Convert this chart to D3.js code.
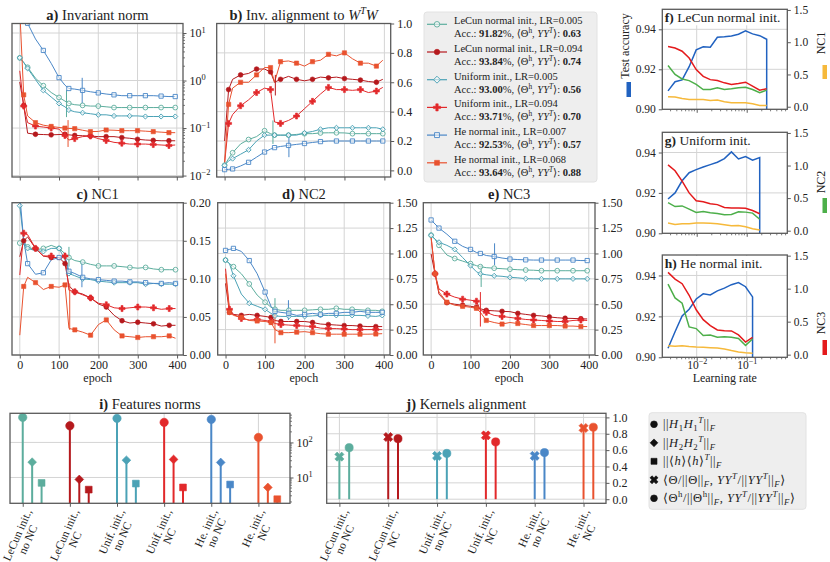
<!DOCTYPE html>
<html lang="en">
<head>
<meta charset="UTF-8">
<title>Invariant norm, alignment and NC</title>
<script src="https://d3js.org/d3.v7.min.js"></script>
<style>
  body { margin: 0; background: #fff; }
  text { font-family: 'Liberation Serif', 'DejaVu Serif', serif; fill: #222; }
</style>
</head>
<body>
<script>
const width = 830, height = 562;

// ---- runs (legend order) ----
const runNames = ["LeCun normal init.", "LeCun normal init.", "Uniform init.", "Uniform init.", "He normal init.", "He normal init."];
const runLR = ["0.005", "0.094", "0.005", "0.094", "0.007", "0.068"];
const runAcc = ["91.82", "93.84", "93.00", "93.71", "92.53", "93.64"];
const alignH = [0.63, 0.74, 0.56, 0.70, 0.57, 0.88];
const alignFull = [0.52, 0.76, 0.53, 0.78, 0.53, 0.87];

// ---- training curves ----
const epochs = [0, 10, 20, 40, 60, 80, 100, 115, 125, 140, 160, 180, 200, 220, 240, 260, 280, 300, 320, 340, 360, 380, 396];

const invNorm = [
  [3.0, 2.4, 1.9, 1.12, 0.78, 0.56, 0.44, 0.37, 0.33, 0.31, 0.30, 0.29, 0.29, 0.28, 0.27, 0.27, 0.27, 0.27, 0.27, 0.27, 0.27, 0.27, 0.27],
  [0.93, 0.30, 0.078, 0.074, 0.073, 0.072, 0.073, 0.074, 0.072, 0.070, 0.069, 0.068, 0.066, 0.066, 0.066, 0.063, 0.061, 0.058, 0.056, 0.055, 0.054, 0.054, 0.054],
  [3.0, 2.4, 1.8, 1.05, 0.62, 0.45, 0.33, 0.28, 0.24, 0.22, 0.21, 0.20, 0.19, 0.19, 0.18, 0.18, 0.18, 0.18, 0.175, 0.175, 0.175, 0.175, 0.175],
  [1.6, 0.29, 0.13, 0.11, 0.105, 0.10, 0.095, 0.07, 0.056, 0.06, 0.066, 0.068, 0.06, 0.055, 0.05, 0.048, 0.046, 0.046, 0.046, 0.045, 0.044, 0.043, 0.044],
  [40, 25, 16, 7.5, 4.3, 2.3, 1.15, 0.8, 0.68, 0.66, 0.62, 0.58, 0.55, 0.52, 0.50, 0.48, 0.48, 0.48, 0.48, 0.48, 0.47, 0.46, 0.46],
  [30, 0.5, 0.18, 0.13, 0.115, 0.108, 0.103, 0.10, 0.098, 0.097, 0.09, 0.084, 0.085, 0.091, 0.09, 0.088, 0.088, 0.088, 0.086, 0.084, 0.082, 0.08, 0.08]
];
const invAlign = [
  [0.035, 0.08, 0.12, 0.18, 0.21, 0.23, 0.27, 0.25, 0.24, 0.24, 0.24, 0.245, 0.25, 0.25, 0.255, 0.256, 0.256, 0.255, 0.25, 0.25, 0.25, 0.25, 0.25],
  [0.20, 0.55, 0.62, 0.65, 0.66, 0.69, 0.69, 0.67, 0.60, 0.62, 0.64, 0.62, 0.61, 0.62, 0.635, 0.63, 0.635, 0.625, 0.62, 0.615, 0.605, 0.60, 0.62],
  [0.034, 0.065, 0.08, 0.11, 0.14, 0.20, 0.24, 0.24, 0.24, 0.24, 0.24, 0.24, 0.255, 0.265, 0.28, 0.29, 0.29, 0.29, 0.29, 0.29, 0.29, 0.29, 0.28],
  [0.05, 0.32, 0.38, 0.44, 0.48, 0.53, 0.56, 0.55, 0.33, 0.32, 0.34, 0.37, 0.42, 0.47, 0.52, 0.565, 0.55, 0.55, 0.545, 0.55, 0.53, 0.54, 0.565],
  [0.005, 0.007, 0.01, 0.03, 0.055, 0.09, 0.125, 0.145, 0.155, 0.163, 0.17, 0.177, 0.183, 0.19, 0.196, 0.20, 0.20, 0.20, 0.20, 0.20, 0.20, 0.20, 0.20],
  [0.05, 0.45, 0.56, 0.60, 0.60, 0.65, 0.70, 0.70, 0.60, 0.74, 0.745, 0.73, 0.71, 0.74, 0.75, 0.79, 0.78, 0.80, 0.76, 0.73, 0.73, 0.71, 0.75]
];
const nc1 = [
  [0.147, 0.145, 0.142, 0.138, 0.14, 0.144, 0.14, 0.133, 0.128, 0.124, 0.122, 0.119, 0.117, 0.117, 0.117, 0.116, 0.115, 0.114, 0.115, 0.113, 0.112, 0.112, 0.112],
  [0.129, 0.15, 0.155, 0.14, 0.13, 0.128, 0.128, 0.12, 0.091, 0.083, 0.08, 0.075, 0.067, 0.063, 0.052, 0.045, 0.042, 0.043, 0.042, 0.041, 0.038, 0.039, 0.039],
  [0.196, 0.15, 0.14, 0.137, 0.136, 0.14, 0.14, 0.125, 0.107, 0.104, 0.10, 0.099, 0.097, 0.096, 0.095, 0.095, 0.095, 0.095, 0.093, 0.094, 0.093, 0.093, 0.093],
  [0.105, 0.16, 0.158, 0.14, 0.13, 0.13, 0.125, 0.13, 0.085, 0.083, 0.079, 0.075, 0.068, 0.066, 0.062, 0.061, 0.062, 0.063, 0.063, 0.062, 0.06, 0.061, 0.061],
  [0.21, 0.15, 0.12, 0.106, 0.108, 0.125, 0.128, 0.13, 0.11, 0.107, 0.102, 0.10, 0.099, 0.098, 0.097, 0.097, 0.096, 0.096, 0.095, 0.094, 0.094, 0.095, 0.094],
  [0.026, 0.09, 0.102, 0.095, 0.086, 0.09, 0.089, 0.092, 0.035, 0.033, 0.03, 0.026, 0.04, 0.046, 0.033, 0.025, 0.024, 0.023, 0.024, 0.024, 0.024, 0.025, 0.022]
];
const nc2 = [
  [0.935, 0.90, 0.87, 0.80, 0.70, 0.59, 0.52, 0.47, 0.45, 0.44, 0.44, 0.44, 0.44, 0.445, 0.45, 0.45, 0.46, 0.45, 0.45, 0.445, 0.44, 0.44, 0.43],
  [0.705, 0.42, 0.40, 0.39, 0.40, 0.39, 0.38, 0.37, 0.34, 0.33, 0.33, 0.33, 0.33, 0.32, 0.305, 0.30, 0.295, 0.29, 0.29, 0.285, 0.28, 0.28, 0.28],
  [0.935, 0.90, 0.78, 0.60, 0.51, 0.48, 0.45, 0.41, 0.385, 0.38, 0.38, 0.38, 0.38, 0.385, 0.39, 0.39, 0.39, 0.39, 0.39, 0.39, 0.385, 0.38, 0.39],
  [0.85, 0.45, 0.40, 0.36, 0.345, 0.35, 0.34, 0.33, 0.31, 0.30, 0.295, 0.29, 0.285, 0.28, 0.265, 0.26, 0.26, 0.255, 0.25, 0.25, 0.25, 0.25, 0.25],
  [1.03, 1.04, 1.05, 1.02, 0.93, 0.80, 0.62, 0.48, 0.43, 0.42, 0.41, 0.39, 0.40, 0.41, 0.40, 0.41, 0.41, 0.42, 0.42, 0.43, 0.42, 0.42, 0.42],
  [0.80, 0.42, 0.39, 0.37, 0.34, 0.335, 0.33, 0.32, 0.25, 0.22, 0.22, 0.225, 0.23, 0.22, 0.21, 0.205, 0.205, 0.205, 0.205, 0.205, 0.205, 0.207, 0.21]
];
const nc3 = [
  [1.18, 1.14, 1.08, 0.985, 0.95, 0.925, 0.90, 0.88, 0.87, 0.86, 0.855, 0.85, 0.845, 0.84, 0.837, 0.835, 0.83, 0.83, 0.83, 0.83, 0.83, 0.83, 0.83],
  [0.995, 0.80, 0.60, 0.515, 0.50, 0.49, 0.48, 0.47, 0.455, 0.44, 0.435, 0.43, 0.427, 0.41, 0.40, 0.39, 0.385, 0.375, 0.367, 0.362, 0.36, 0.357, 0.355],
  [1.18, 1.14, 1.11, 1.08, 1.04, 0.96, 0.88, 0.82, 0.80, 0.79, 0.78, 0.775, 0.765, 0.76, 0.752, 0.75, 0.75, 0.75, 0.75, 0.75, 0.75, 0.75, 0.75],
  [1.16, 0.80, 0.65, 0.60, 0.57, 0.55, 0.54, 0.53, 0.44, 0.42, 0.39, 0.38, 0.37, 0.36, 0.35, 0.345, 0.34, 0.335, 0.33, 0.33, 0.34, 0.345, 0.34],
  [1.33, 1.29, 1.25, 1.19, 1.12, 1.07, 1.04, 1.01, 1.0, 0.98, 0.97, 0.955, 0.945, 0.94, 0.937, 0.935, 0.935, 0.935, 0.935, 0.935, 0.935, 0.93, 0.93],
  [1.16, 0.80, 0.62, 0.52, 0.49, 0.48, 0.47, 0.46, 0.42, 0.34, 0.32, 0.305, 0.32, 0.31, 0.30, 0.29, 0.29, 0.29, 0.29, 0.285, 0.285, 0.28, 0.28]
];
// vertical jumps: [run, epoch, low, high]
const spikesNorm = [[0, 119, 0.17, 0.63], [4, 159, 0.33, 1.14], [5, 123, 0.04, 0.147]];
const spikesAlign = [[0, 121, 0.18, 0.34], [4, 161, 0.09, 0.25], [1, 127, 0.51, 0.65]];
const spikesNC1 = [[0, 125, 0.116, 0.142], [5, 127, 0.033, 0.094], [4, 158, 0.089, 0.122]];
const spikesNC2 = [[0, 125, 0.39, 0.56], [4, 159, 0.345, 0.54], [5, 125, 0.115, 0.41]];
const spikesNC3 = [[0, 127, 0.67, 0.886], [4, 161, 0.886, 1.10], [3, 125, 0.28, 0.62]];

// ---- learning-rate sweeps ----
const lrGrid = [0.00267, 0.00369, 0.00511, 0.00706, 0.00977, 0.0135, 0.0187, 0.0259, 0.0358, 0.0495, 0.0685, 0.0948, 0.131, 0.182, 0.251];
const divergedAcc = 0.10;
const accLecun = [0.9092, 0.9138, 0.9147, 0.9213, 0.9297, 0.9313, 0.931, 0.936, 0.9363, 0.9367, 0.9375, 0.9392, 0.9377, 0.9368, 0.935];
const nc1Lecun = [0.154, 0.149, 0.128, 0.113, 0.113, 0.113, 0.098, 0.103, 0.077, 0.062, 0.062, 0.062, 0.046, 0.02, 0.02];
const nc2Lecun = [0.64, 0.50, 0.43, 0.405, 0.345, 0.267, 0.267, 0.293, 0.267, 0.277, 0.293, 0.303, 0.267, 0.216, 0.257];
const nc3Lecun = [0.935, 0.91, 0.86, 0.755, 0.575, 0.47, 0.42, 0.405, 0.37, 0.345, 0.36, 0.38, 0.32, 0.257, 0.277];
const accUnif = [0.917, 0.920, 0.926, 0.930, 0.9315, 0.9328, 0.934, 0.9352, 0.937, 0.9403, 0.9368, 0.938, 0.9362, 0.9375];
const nc1Unif = [0.117, 0.097, 0.105, 0.107, 0.117, 0.117, 0.115, 0.105, 0.09, 0.075, 0.078, 0.06, 0.03, 0.01];
const nc2Unif = [0.43, 0.37, 0.38, 0.33, 0.28, 0.295, 0.275, 0.265, 0.245, 0.25, 0.29, 0.285, 0.27, 0.175];
const nc3Unif = [1.01, 0.92, 0.76, 0.58, 0.46, 0.445, 0.415, 0.40, 0.355, 0.35, 0.35, 0.345, 0.31, 0.26];
const accHe = [0.9044, 0.9125, 0.9202, 0.9235, 0.9285, 0.931, 0.9305, 0.9325, 0.9338, 0.9355, 0.9365, 0.9345, 0.9295];
const nc1He = [0.136, 0.128, 0.136, 0.124, 0.116, 0.112, 0.106, 0.10, 0.086, 0.062, 0.042, 0.028, 0.02];
const nc2He = [1.07, 0.86, 0.78, 0.42, 0.395, 0.29, 0.298, 0.265, 0.27, 0.263, 0.245, 0.14, 0.237];
const nc3He = [1.247, 1.145, 1.075, 0.90, 0.68, 0.53, 0.44, 0.375, 0.364, 0.36, 0.30, 0.19, 0.263];

// ---- bottom stem plots ----
const groupLabels = [["LeCun init.,", "no NC"], ["LeCun init.,", "NC"], ["Unif. init.,", "no NC"], ["Unif. init.,", "NC"], ["He. init.,", "no NC"], ["He. init.,", "NC"]];
const normH1 = [518, 298, 485, 373, 454, 139];
const normH2 = [27.4, 8.8, 31, 32.7, 26.8, 5.2];
const normMean = [7.0, 4.5, 6.7, 5.2, 6.3, 2.4];

// ---- styles ----
const runColors = ["#5cad9d", "#b5191d", "#4ba2b6", "#e2292b", "#4a87c7", "#e9522f"];
const runShapes = ["circle", "circle", "diamond", "plus", "square", "square"];
const runFilled = [false, true, false, true, false, true];
const cAcc = "#2162c0", cNC1 = "#f6b93b", cNC2 = "#4daf4a", cNC3 = "#e41a1c";
const gridColor = "#d4d4d4", spineColor = "#5a5a5a";
const tickFs = 12;

const svg = d3.select("body").append("svg").attr("width", width).attr("height", height);

function richText(t, parts, fs) {
  let shift = 0;
  parts.forEach(p => {
    const s = p[0], k = p[1] || "";
    const span = t.append("tspan").text(s);
    const target = k.includes("^") ? -0.4 * fs : k.includes("_") ? 0.25 * fs : 0;
    if (target - shift !== 0) span.attr("dy", target - shift);
    shift = target;
    if (target !== 0) span.attr("font-size", 0.7 * fs);
    if (k.includes("I")) span.attr("font-style", "italic");
    span.attr("font-weight", k.includes("B") ? "bold" : "normal");
  });
}

function markerPath(shape, size) {
  const t = {circle: d3.symbolCircle, diamond: d3.symbolSquare, plus: d3.symbolCross,
             square: d3.symbolSquare, x: d3.symbolCross}[shape];
  return d3.symbol().type(t).size(size)();
}
function drawMarker(g, shape, cx, cy, size, color, filled) {
  const rot = (shape === "diamond" || shape === "x") ? 45 : 0;
  g.append("path").attr("d", markerPath(shape, size))
    .attr("transform", `translate(${cx},${cy}) rotate(${rot})`)
    .attr("fill", filled ? color : "#fff").attr("fill-opacity", filled ? 1 : 0.55)
    .attr("stroke", color).attr("stroke-width", filled ? 0.6 : 0.9);
}

function frame(g, x0, y0, x1, y1) {
  g.append("rect").attr("x", x0).attr("y", y0).attr("width", x1 - x0).attr("height", y1 - y0)
    .attr("fill", "none").attr("stroke", spineColor).attr("stroke-width", 1.3);
}
function styleAxis(sel, fs) {
  sel.attr("font-size", fs).attr("font-family", null);
  sel.select(".domain").remove();
  sel.selectAll(".tick line").attr("stroke", spineColor);
  sel.selectAll(".tick text").attr("fill", "#222");
}
function clipRect(id, x0, y0, x1, y1) {
  svg.append("clipPath").attr("id", id).append("rect")
    .attr("x", x0).attr("y", y0).attr("width", x1 - x0).attr("height", y1 - y0);
  return `url(#${id})`;
}
function minorLogTicks(g, scale, lo, hi, draw) {
  for (let e = lo; e <= hi; e++) for (let m = 2; m <= 9; m++) {
    const v = m * Math.pow(10, e);
    const [d0, d1] = scale.domain();
    if (v > d0 && v < d1) draw(scale(v));
  }
}
function powLabel(d) {
  return [["10"], [String(Math.round(Math.log10(d))).replace("-", "−"), "^"]];
}

// ================= epoch panels a-e =================
function epochPanel(o) {
  const g = svg.append("g");
  const x = d3.scaleLinear().domain([-19.8, 415.8]).range([o.x0, o.x1]);
  const y = (o.log ? d3.scaleLog() : d3.scaleLinear()).domain(o.domain).range([o.y1, o.y0]);
  const xt = [0, 100, 200, 300, 400];
  g.selectAll(null).data(xt).join("line")
    .attr("x1", d => x(d)).attr("x2", d => x(d)).attr("y1", o.y0).attr("y2", o.y1)
    .attr("stroke", gridColor).attr("stroke-width", 1);
  g.selectAll(null).data(o.ticks).join("line")
    .attr("x1", o.x0).attr("x2", o.x1).attr("y1", d => y(d)).attr("y2", d => y(d))
    .attr("stroke", gridColor).attr("stroke-width", 1);

  const plot = g.append("g").attr("clip-path", clipRect("clip" + o.id, o.x0, o.y0, o.x1, o.y1));
  const line = d3.line().x(d => x(d[0])).y(d => y(d[1]));
  o.data.forEach((vals, r) => {
    const pts = epochs.map((e, i) => [e, vals[i]]);
    plot.append("path").datum(pts).attr("d", line)
      .attr("fill", "none").attr("stroke", runColors[r]).attr("stroke-width", 1);
  });
  o.spikes.forEach(s => {
    plot.append("line").attr("x1", x(s[1])).attr("x2", x(s[1]))
      .attr("y1", y(s[2])).attr("y2", y(s[3]))
      .attr("stroke", runColors[s[0]]).attr("stroke-width", 1);
  });
  o.data.forEach((vals, r) => {
    epochs.forEach((e, i) => {
      if (i % 2 !== r % 2) return;
      const sz = runShapes[r] === "plus" ? 20 : runShapes[r] === "diamond" ? 13 : 18;
      drawMarker(plot, runShapes[r], x(e), y(vals[i]), sz, runColors[r], runFilled[r]);
    });
  });

  frame(g, o.x0, o.y0, o.x1, o.y1);

  const ay = g.append("g").attr("transform", `translate(${o.x1},0)`)
    .call(d3.axisRight(y).tickValues(o.ticks).tickSize(3.5).tickPadding(3)
      .tickFormat(o.log ? () => "" : d3.format(o.fmt)));
  styleAxis(ay, tickFs);
  if (o.log) {
    ay.selectAll(".tick text").each(function (d) { richText(d3.select(this), powLabel(d), tickFs); });
    minorLogTicks(g, y, -2, 1, yy => g.append("line").attr("x1", o.x1).attr("x2", o.x1 + 2)
      .attr("y1", yy).attr("y2", yy).attr("stroke", spineColor).attr("stroke-width", 0.8));
  }
  const ax = g.append("g").attr("transform", `translate(0,${o.y1})`)
    .call(d3.axisBottom(x).tickValues(xt).tickSize(3.5).tickPadding(2)
      .tickFormat(o.xlabels ? d3.format("d") : () => ""));
  styleAxis(ax, tickFs);
  if (o.xlabels) {
    g.append("text").attr("x", (o.x0 + o.x1) / 2).attr("y", o.y1 + 27)
      .attr("text-anchor", "middle").attr("font-size", 12).text("epoch");
  }
  const tt = g.append("text").attr("x", (o.x0 + o.x1) / 2).attr("y", o.y0 - 4)
    .attr("text-anchor", "middle").attr("font-size", 14.5);
  richText(tt, o.title, 14.5);
}

const topY0 = 23.5, topY1 = 177, midY0 = 202.7, midY1 = 355;
epochPanel({id: "a", x0: 12, x1: 183, y0: topY0, y1: topY1, log: true,
  domain: [Math.pow(10, -2.03), Math.pow(10, 1.2)], ticks: [0.01, 0.1, 1, 10],
  data: invNorm, spikes: spikesNorm, xlabels: false, title: [["a)", "B"], [" Invariant norm"]]});
epochPanel({id: "b", x0: 216.7, x1: 390.7, y0: topY0, y1: topY1,
  domain: [-0.045, 1.0], ticks: [0, 0.2, 0.4, 0.6, 0.8, 1.0], fmt: ".1f",
  data: invAlign, spikes: spikesAlign, xlabels: false,
  title: [["b)", "B"], [" Inv. alignment to "], ["W", "I"], ["T", "^I"], ["W", "I"]]});
epochPanel({id: "c", x0: 12, x1: 183.3, y0: midY0, y1: midY1,
  domain: [0, 0.2], ticks: [0, 0.05, 0.1, 0.15, 0.2], fmt: ".2f",
  data: nc1, spikes: spikesNC1, xlabels: true, title: [["c)", "B"], [" NC1"]]});
epochPanel({id: "d", x0: 217.7, x1: 390, y0: midY0, y1: midY1,
  domain: [0, 1.5], ticks: [0, 0.25, 0.5, 0.75, 1, 1.25, 1.5], fmt: ".2f",
  data: nc2, spikes: spikesNC2, xlabels: true, title: [["d)", "B"], [" NC2"]]});
epochPanel({id: "e", x0: 423.3, x1: 595, y0: midY0, y1: midY1,
  domain: [0, 1.5], ticks: [0, 0.25, 0.5, 0.75, 1, 1.25, 1.5], fmt: ".2f",
  data: nc3, spikes: spikesNC3, xlabels: true, title: [["e)", "B"], [" NC3"]]});

// ---- legend for runs ----
(function () {
  const g = svg.append("g");
  g.append("rect").attr("x", 424).attr("y", 12).attr("width", 173).attr("height", 170)
    .attr("rx", 3).attr("fill", "#eeeeee").attr("stroke", "#e2e2e2");
  runNames.forEach((nm, r) => {
    const yb = 24.3 + r * 27.7;
    g.append("line").attr("x1", 427).attr("x2", 447).attr("y1", yb).attr("y2", yb)
      .attr("stroke", runColors[r]).attr("stroke-width", 1.2);
    drawMarker(g, runShapes[r], 437, yb, runShapes[r] === "plus" ? 28 : 24, runColors[r], runFilled[r]);
    const t1 = g.append("text").attr("x", 454).attr("y", yb).attr("font-size", 10.5);
    richText(t1, [[nm + ", LR=" + runLR[r]]], 10.5);
    const t2 = g.append("text").attr("x", 454).attr("y", yb + 13).attr("font-size", 10.5);
    richText(t2, [["Acc.: "], [runAcc[r], "B"], ["%, ⟨Θ"], ["h", "^"], [", "], ["YY", "I"], ["T", "^I"],
      ["⟩: "], [alignH[r].toFixed(2), "B"]], 10.5);
  });
})();

// ================= learning-rate panels f-h =================
function lrPanel(o) {
  const g = svg.append("g");
  const x0 = 662.3, x1 = 787.3;
  const x = d3.scaleLog().domain([Math.pow(10, -2.688), Math.pow(10, -0.188)]).range([x0, x1]);
  const yl = d3.scaleLinear().domain([0.90, 0.95]).range([o.y1, o.y0]);
  const yr = d3.scaleLinear().domain([-0.04, 1.51]).range([o.y1, o.y0]);
  [0.01, 0.1].forEach(v => g.append("line").attr("x1", x(v)).attr("x2", x(v)).attr("y1", o.y0).attr("y2", o.y1)
    .attr("stroke", gridColor));
  [0.92, 0.94].forEach(v => g.append("line").attr("x1", x0).attr("x2", x1).attr("y1", yl(v)).attr("y2", yl(v))
    .attr("stroke", gridColor));
  const plot = g.append("g").attr("clip-path", clipRect("clip" + o.id, x0, o.y0, x1, o.y1));
  const n = o.acc.length;
  const accPts = o.acc.map((v, i) => [lrGrid[i], v]).concat([[lrGrid[n - 1], divergedAcc]]);
  plot.append("path").datum(accPts).attr("d", d3.line().x(d => x(d[0])).y(d => yl(d[1])))
    .attr("fill", "none").attr("stroke", cAcc).attr("stroke-width", 1.5);
  [[o.nc3, cNC3], [o.nc2, cNC2], [o.nc1, cNC1]].forEach(([vals, c]) => {
    plot.append("path").datum(vals.map((v, i) => [lrGrid[i], v]))
      .attr("d", d3.line().x(d => x(d[0])).y(d => yr(d[1])))
      .attr("fill", "none").attr("stroke", c).attr("stroke-width", 1.5);
  });
  frame(g, x0, o.y0, x1, o.y1);
  const al = g.append("g").attr("transform", `translate(${x0},0)`)
    .call(d3.axisLeft(yl).tickValues([0.90, 0.92, 0.94]).tickFormat(d3.format(".2f")).tickSize(3.5).tickPadding(3));
  styleAxis(al, 11.5);
  const ar = g.append("g").attr("transform", `translate(${x1},0)`)
    .call(d3.axisRight(yr).tickValues([0, 0.5, 1, 1.5]).tickFormat(d3.format(".1f")).tickSize(3.5).tickPadding(3));
  styleAxis(ar, 11.5);
  const ab = g.append("g").attr("transform", `translate(0,${o.y1})`)
    .call(d3.axisBottom(x).tickValues([0.01, 0.1]).tickFormat(() => "").tickSize(3.5).tickPadding(1));
  styleAxis(ab, 11.5);
  minorLogTicks(g, x, -3, -1, xx => g.append("line").attr("x1", xx).attr("x2", xx)
    .attr("y1", o.y1).attr("y2", o.y1 + 2).attr("stroke", spineColor).attr("stroke-width", 0.8));
  if (o.xlabels) {
    ab.selectAll(".tick text").attr("dy", "0.62em")
      .each(function (d) { richText(d3.select(this), powLabel(d), 11.5); });
    g.append("text").attr("x", (x0 + x1) / 2).attr("y", o.y1 + 24.5).attr("text-anchor", "middle")
      .attr("font-size", 12).text("Learning rate");
  }
  const bg = g.append("rect").attr("fill", "#fff");
  const tt = g.append("text").attr("x", x0 + 2.5).attr("y", o.y0 + 12.5).attr("font-size", 13.5);
  richText(tt, o.title, 13.5);
  const bb = tt.node().getBBox();
  bg.attr("x", x0 + 1).attr("y", o.y0 + 1).attr("width", bb.width + 3).attr("height", bb.height);
}
lrPanel({id: "f", y0: 9.3, y1: 109.3, acc: accLecun, nc1: nc1Lecun, nc2: nc2Lecun, nc3: nc3Lecun,
  title: [["f)", "B"], [" LeCun normal init."]]});
lrPanel({id: "g", y0: 132.3, y1: 233.3, acc: accUnif, nc1: nc1Unif, nc2: nc2Unif, nc3: nc3Unif,
  title: [["g)", "B"], [" Uniform init."]]});
lrPanel({id: "h", y0: 255, y1: 357.3, acc: accHe, nc1: nc1He, nc2: nc2He, nc3: nc3He, xlabels: true,
  title: [["h)", "B"], [" He normal init."]]});

// side labels with colour keys
function sideLabel(txt, cx, cy, color, by0, by1) {
  svg.append("text").attr("transform", `translate(${cx},${cy}) rotate(-90)`)
    .attr("text-anchor", "middle").attr("font-size", 12).text(txt);
  svg.append("rect").attr("x", cx - 2.5).attr("y", by0).attr("width", 4.5).attr("height", by1 - by0).attr("fill", color);
}
sideLabel("Test accuracy", 629, 46, cAcc, 82, 97);
sideLabel("NC1", 825, 43, cNC1, 65, 79);
sideLabel("NC2", 825, 182, cNC2, 198, 213);
sideLabel("NC3", 825, 323, cNC3, 340, 355);

// ================= stem panels i, j =================
function catLabels(xs, bottom) {
  const th = 66 * Math.PI / 180, lh = 11.5;
  groupLabels.forEach((lines, k) => {
    const g = svg.append("g");
    const t = g.append("text").attr("font-size", 11.5).attr("text-anchor", "middle");
    lines.forEach((s, i) => t.append("tspan").attr("x", 0)
      .attr("y", (i - (lines.length - 1) / 2) * lh + 3.8).text(s));
    const w = d3.max(t.selectAll("tspan").nodes(), nd => nd.getComputedTextLength());
    const h = lines.length * lh;
    const bh = w * Math.sin(th) + h * Math.cos(th);
    g.attr("transform", `translate(${xs(k)},${bottom + 4 + bh / 2}) rotate(-66)`);
  });
}
function stemPanel(o) {
  const g = svg.append("g");
  const x = d3.scaleLinear().domain(o.xdom).range([o.x0, o.x1]);
  const y = o.y;
  const ks = d3.range(groupLabels.length);
  ks.forEach(k => g.append("line").attr("x1", x(k)).attr("x2", x(k)).attr("y1", o.y0).attr("y2", o.y1)
    .attr("stroke", gridColor));
  o.ticks.forEach(v => g.append("line").attr("x1", o.x0).attr("x2", o.x1).attr("y1", y(v)).attr("y2", y(v))
    .attr("stroke", gridColor));
  o.series.forEach(s => {
    s.vals.forEach((v, k) => {
      const xx = x(k + s.off);
      g.append("line").attr("x1", xx).attr("x2", xx).attr("y1", o.base).attr("y2", y(v))
        .attr("stroke", runColors[k]).attr("stroke-width", 2);
      drawMarker(g, s.shape, xx, y(v), s.size, runColors[k], true);
    });
  });
  frame(g, o.x0, o.y0, o.x1, o.y1);
  const ar = g.append("g").attr("transform", `translate(${o.x1},0)`)
    .call(d3.axisRight(y).tickValues(o.ticks).tickSize(3.5).tickPadding(3)
      .tickFormat(o.log ? () => "" : d3.format(".1f")));
  styleAxis(ar, tickFs);
  if (o.log) {
    ar.selectAll(".tick text").each(function (d) { richText(d3.select(this), powLabel(d), tickFs); });
    minorLogTicks(g, y, 0, 2, yy => g.append("line").attr("x1", o.x1).attr("x2", o.x1 + 2)
      .attr("y1", yy).attr("y2", yy).attr("stroke", spineColor).attr("stroke-width", 0.8));
  }
  const ab = g.append("g").attr("transform", `translate(0,${o.y1})`)
    .call(d3.axisBottom(x).tickValues(ks).tickFormat(() => "").tickSize(3.5));
  styleAxis(ab, tickFs);
  catLabels(x, o.y1);
  const tt = g.append("text").attr("x", (o.x0 + o.x1) / 2).attr("y", o.y0 - 4)
    .attr("text-anchor", "middle").attr("font-size", 14.5);
  richText(tt, o.title, 14.5);
}
const yNorm = d3.scaleLog().domain([Math.pow(10, 0.263), Math.pow(10, 2.831)]).range([503.3, 413.3]);
stemPanel({x0: 10, x1: 290, y0: 413.3, y1: 503.3, xdom: [-0.27, 5.67], y: yNorm, log: true,
  ticks: [10, 100], base: 503.3, title: [["i)", "B"], [" Features norms"]],
  series: [{vals: normH1, off: 0, shape: "circle", size: 55},
           {vals: normH2, off: 0.2, shape: "diamond", size: 38},
           {vals: normMean, off: 0.4, shape: "square", size: 46}]});
const yAlign = d3.scaleLinear().domain([-0.05, 1.05]).range([503.3, 413.3]);
stemPanel({x0: 326.7, x1: 606, y0: 413.3, y1: 503.3, xdom: [-0.26, 5.46], y: yAlign, log: false,
  ticks: [0, 0.2, 0.4, 0.6, 0.8, 1.0], base: yAlign(0), title: [["j)", "B"], [" Kernels alignment"]],
  series: [{vals: alignFull, off: 0, shape: "x", size: 52},
           {vals: alignH, off: 0.2, shape: "circle", size: 52}]});

// ---- legend for stem panels ----
(function () {
  const g = svg.append("g");
  g.append("rect").attr("x", 649).attr("y", 412.7).attr("width", 157).attr("height", 96.6)
    .attr("rx", 3).attr("fill", "#eeeeee").attr("stroke", "#e2e2e2");
  const rows = [
    ["circle", [["||"], ["H", "I"], ["1", "_"], ["H", "I"], ["1", "_"], ["T", "^I"], ["||"], ["F", "_I"]]],
    ["diamond", [["||"], ["H", "I"], ["2", "_"], ["H", "I"], ["2", "_"], ["T", "^I"], ["||"], ["F", "_I"]]],
    ["square", [["||⟨"], ["h", "I"], ["⟩⟨"], ["h", "I"], ["⟩"], ["T", "^I"], ["||"], ["F", "_I"]]],
    ["x", [["⟨Θ/||Θ||"], ["F", "_I"], [", "], ["YY", "I"], ["T", "^I"], ["/||"], ["YY", "I"], ["T", "^I"],
           ["||"], ["F", "_I"], ["⟩"]]],
    ["circle", [["⟨Θ"], ["h", "^"], ["/||Θ"], ["h", "^"], ["||"], ["F", "_I"], [", "], ["YY", "I"], ["T", "^I"],
                ["/||"], ["YY", "I"], ["T", "^I"], ["||"], ["F", "_I"], ["⟩"]]]
  ];
  rows.forEach(([shape, parts], i) => {
    const yc = 424.3 + i * 18.5;
    drawMarker(g, shape, 654, yc, shape === "x" ? 40 : shape === "diamond" ? 30 : 36, "#111", true);
    const t = g.append("text").attr("x", 663).attr("y", yc + 4).attr("font-size", 12.5)
      .attr("letter-spacing", 0.55);
    richText(t, parts, 12.5);
  });
})();
</script>
</body>
</html>
